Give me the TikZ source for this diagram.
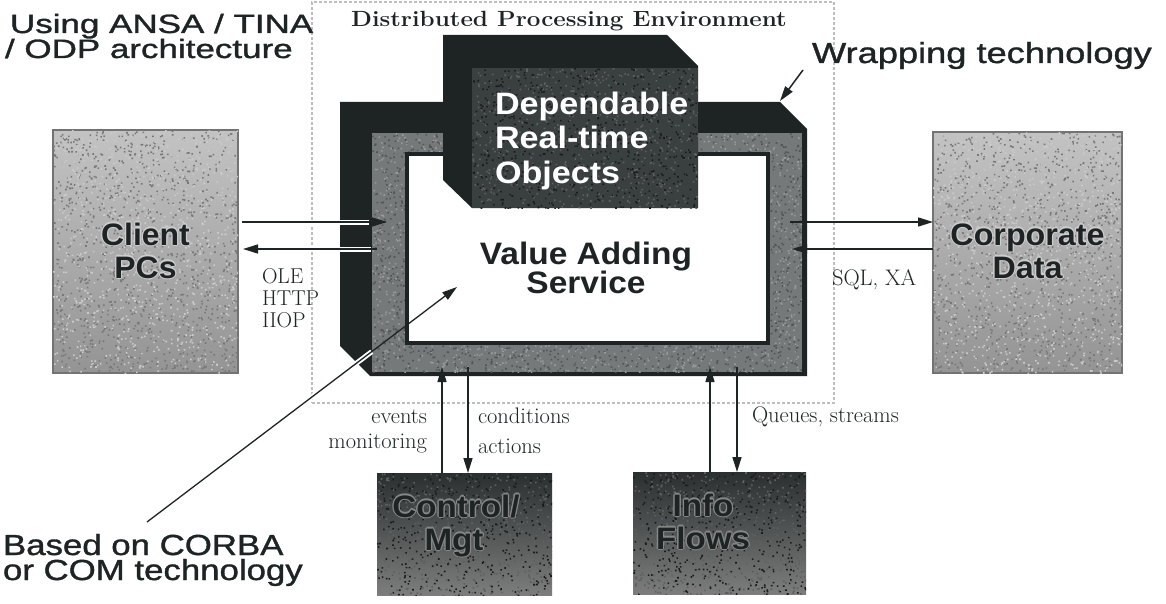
\documentclass[tikz,border=0pt]{standalone}
\usepackage{fontspec}
\usepackage{graphicx}
\newfontfamily\hv{Liberation Sans}
\newfontfamily\hvn[FakeBold=1.1]{Liberation Sans}
\usetikzlibrary{arrows.meta}

\definecolor{ink}{RGB}{30,36,36}
\definecolor{frameGrey}{RGB}{118,121,121}
\definecolor{droGrey}{RGB}{58,63,63}
\definecolor{dpeLine}{RGB}{190,190,190}
\definecolor{sideTop}{RGB}{195,195,195}
\definecolor{sideBot}{RGB}{148,148,148}
\definecolor{lowTop}{RGB}{42,47,47}
\definecolor{lowBot}{RGB}{125,125,125}
\definecolor{haloDark}{RGB}{135,135,135}
\definecolor{haloLight}{RGB}{205,205,205}
\definecolor{sideGrainDark}{RGB}{120,120,120}
\definecolor{sideGrainLight}{RGB}{202,202,202}
\definecolor{frameGrainDark}{RGB}{82,85,85}
\definecolor{frameGrainLight}{RGB}{152,154,154}
\definecolor{darkGrainMid}{RGB}{92,96,96}
\definecolor{darkGrainBlack}{RGB}{24,28,28}

% horizontal stretch of a piece of text
\newcommand\sx[2]{\scalebox{#1}[1]{#2}}
% text with a soft outline in a second colour
\newcommand\halo[2][haloDark]{\leavevmode
  \rlap{\color{#1}\kern-1.2pt #2}%
  \rlap{\color{#1}\kern1.2pt #2}%
  \rlap{\color{#1}\raisebox{1.2pt}{#2}}%
  \rlap{\color{#1}\raisebox{-1.2pt}{#2}}%
  \rlap{\color{#1}\kern-0.85pt\raisebox{0.85pt}{#2}}%
  \rlap{\color{#1}\kern0.85pt\raisebox{0.85pt}{#2}}%
  \rlap{\color{#1}\kern-0.85pt\raisebox{-0.85pt}{#2}}%
  \rlap{\color{#1}\kern0.85pt\raisebox{-0.85pt}{#2}}%
  #2}
% scattered grain over a rectangle: x, y, width, height, count, colour
\newcommand\grain[6]{%
  \begin{scope}
    \clip (#1,#2) rectangle ++(#3,#4);
    \fill[#6]
    \foreach \k in {1,...,#5}{%
      (#1+rnd*#3,#2+rnd*#4) rectangle ++(1.6,1.6)
    };
  \end{scope}}

\begin{document}
\begin{tikzpicture}[x=1pt,y=-1pt,
  every node/.style={inner sep=0pt, outer sep=0pt},
  conn/.style={draw=ink, line width=1.5pt, -{Triangle[length=15pt,width=9pt]}},
  caseEnd/.style={preaction={draw=white, line width=5pt, -, shorten >=#1}},
  caseStart/.style={preaction={draw=white, line width=5pt, -, shorten <=#1}},
  sidebox/.style={anchor=north west, top color=sideTop, bottom color=sideBot,
    draw={rgb,255:red,115;green,115;blue,115}, line width=1.2pt},
  lowbox/.style={anchor=north west, top color=lowTop, bottom color=lowBot},
  boxtext/.style={font=\hv\bfseries\fontsize{31}{33}\selectfont, text=ink},
  small/.style={font=\fontsize{22.5}{24}\selectfont, text=ink},
]
\pgfmathsetseed{7}
\useasboundingbox (0,0) rectangle (1166,604);
\fill[white] (0,0) rectangle (1166,604);

% the distributed processing environment
\node[draw=dpeLine, line width=1.1pt, dash pattern=on 3pt off 2pt, anchor=north west,
      minimum width=522pt, minimum height=401pt] (dpe) at (312,2) {};
\node[font=\bfseries\fontsize{22}{24}\selectfont, text=ink, anchor=base] (dpelabel) at (569,27)
  {\sx{1.1}{Distributed Processing Environment}};

% wrapping layer: dark extrusion, grey frame, white service area
\fill[ink] (340,102) -- (780,102) -- (807,129) -- (807,376) -- (370,376) -- (340,346) -- cycle;
\node[fill=frameGrey, anchor=north west, minimum width=430pt, minimum height=239pt] (wrap) at (372,133) {};
\grain{372}{133}{430}{21}{250}{frameGrainDark}
\grain{372}{133}{430}{21}{200}{frameGrainLight}
\grain{372}{345}{430}{27}{320}{frameGrainDark}
\grain{372}{345}{430}{27}{260}{frameGrainLight}
\grain{372}{154}{35}{191}{190}{frameGrainDark}
\grain{372}{154}{35}{191}{150}{frameGrainLight}
\grain{770}{154}{32}{191}{180}{frameGrainDark}
\grain{770}{154}{32}{191}{140}{frameGrainLight}
\node[fill=white, draw=ink, line width=4pt, anchor=north west,
      minimum width=361pt, minimum height=189pt] (vas) at (407,154) {};

% dependable real-time objects block
\fill[ink] (443,35) -- (667,35) -- (698,66) -- (698,208) -- (472,208) -- (443,180) -- cycle;
\node[fill=droGrey, anchor=north west, minimum width=226pt, minimum height=140pt] (dro) at (472,68) {};
\grain{472}{68}{226}{140}{650}{darkGrainMid}
\grain{472}{68}{226}{140}{650}{darkGrainBlack}
\node[font=\hv\bfseries\fontsize{31}{33}\selectfont, text=white, anchor=base west] (dro1) at (495,115) {\sx{1.1}{Dependable}};
\node[font=\hv\bfseries\fontsize{31}{33}\selectfont, text=white, anchor=base west] (dro2) at (495,149) {\sx{1.1}{Real-time}};
\node[font=\hv\bfseries\fontsize{31}{33}\selectfont, text=white, anchor=base west] (dro3) at (495,183) {\sx{1.1}{Objects}};

\node[boxtext, anchor=base] (vas1) at (586,264) {\sx{1.08}{Value Adding}};
\node[boxtext, anchor=base] (vas2) at (586,293) {\sx{1.08}{Service}};

% outer boxes
\node[sidebox, minimum width=185pt, minimum height=243pt] (client) at (53,130) {};
\grain{53}{130}{185}{243}{1100}{sideGrainDark}
\grain{53}{130}{185}{243}{900}{sideGrainLight}
\node[sidebox, minimum width=189pt, minimum height=241pt] (corp) at (933,132) {};
\grain{933}{132}{189}{241}{1100}{sideGrainDark}
\grain{933}{132}{189}{241}{900}{sideGrainLight}
\node[lowbox, minimum width=175pt, minimum height=122pt] (ctl) at (377,473) {};
\grain{377}{473}{175}{122}{480}{darkGrainMid}
\grain{377}{473}{175}{122}{420}{darkGrainBlack}
\node[lowbox, minimum width=173pt, minimum height=122pt] (info) at (633,472) {};
\grain{633}{472}{173}{122}{480}{darkGrainMid}
\grain{633}{472}{173}{122}{420}{darkGrainBlack}

\node[boxtext, anchor=base] (client1) at (145.5,245) {\sx{1.03}{\halo[haloLight]{Client}}};
\node[boxtext, anchor=base] (client2) at (145.5,278) {\sx{1.03}{\halo[haloLight]{PCs}}};
\node[boxtext, anchor=base] (corp1) at (1027.5,245) {\sx{1.04}{\halo[haloLight]{Corporate}}};
\node[boxtext, anchor=base] (corp2) at (1027.5,278) {\sx{1.04}{\halo[haloLight]{Data}}};
\node[boxtext, anchor=base] (ctl1) at (456,517) {\sx{1.07}{\halo{Control/}}};
\node[boxtext, anchor=base] (ctl2) at (454,550) {\sx{1.07}{\halo{Mgt}}};
\node[boxtext, anchor=base] (info1) at (703,516) {\sx{1.07}{\halo{Info}}};
\node[boxtext, anchor=base] (info2) at (703,549) {\sx{1.07}{\halo{Flows}}};

% free annotations
\node[font=\hvn\fontsize{26.5}{28}\selectfont, text=ink, anchor=base west] (using1) at (10,33) {\sx{1.32}{Using ANSA / TINA}};
\node[font=\hvn\fontsize{26.5}{28}\selectfont, text=ink, anchor=base west] (using2) at (5,58) {\sx{1.32}{/ ODP architecture}};
\node[font=\hvn\fontsize{29}{30}\selectfont, text=ink, anchor=base west] (wraptext) at (812,63) {\sx{1.25}{Wrapping technology}};
\node[font=\hvn\fontsize{29}{30}\selectfont, text=ink, anchor=base west] (based1) at (3,555) {\sx{1.2}{Based on CORBA}};
\node[font=\hvn\fontsize{29}{30}\selectfont, text=ink, anchor=base west] (based2) at (3,580) {\sx{1.2}{or COM technology}};

% protocol labels
\node[small, font=\fontsize{21.5}{22}\selectfont, anchor=base west] (ole) at (262,283) {OLE};
\node[small, font=\fontsize{21.5}{22}\selectfont, anchor=base west] (http) at (262,305) {HTTP};
\node[small, font=\fontsize{21.5}{22}\selectfont, anchor=base west] (iiop) at (262,327) {IIOP};
\node[small, anchor=base west] (sql) at (832,285) {SQL, XA};
\node[small, anchor=base east] (events) at (427,423) {events};
\node[small, anchor=base east] (monit) at (427,448) {monitoring};
\node[small, anchor=base west] (cond) at (478,423) {conditions};
\node[small, anchor=base west] (actions) at (478,453) {actions};
\node[small, anchor=base west] (queues) at (752,422) {Queues, streams};

% connector end points inside the wrapping frame
\coordinate (inL1) at (387,222);
\coordinate (outL2) at (377,249);
\coordinate (outR1) at (790,222);
\coordinate (inR2) at (792,249);
\coordinate (ctlUp) at (442,367);
\coordinate (ctlDown) at (468,367);
\coordinate (infoUp) at (710,367);
\coordinate (infoDown) at (737,367);
\coordinate (wrapTail) at (803,70);
\coordinate (wrapCorner) at (780,101);
\coordinate (corbaTail) at (147,522);
\coordinate (corbaTip) at (457,287);

% connectors
\draw[conn, caseEnd=18pt] ([xshift=4pt, yshift=29.5pt]client.east) -- (inL1);
\draw[conn, caseStart=6pt] (outL2) -- ([xshift=5pt, yshift=2.5pt]client.east);
\draw[conn] (outR1) -- ([yshift=30.5pt]corp.west);
\draw[conn] ([yshift=3.5pt]corp.west) -- (inR2);
\draw[conn] ([xshift=-22.5pt]ctl.north) -- (ctlUp);
\draw[conn] (ctlDown) -- ([xshift=3.5pt]ctl.north);
\draw[conn] ([xshift=-9.5pt]info.north) -- (infoUp);
\draw[conn] (infoDown) -- ([xshift=17.5pt]info.north);
\draw[conn] (wrapTail) -- (wrapCorner);
\draw[conn, line width=1.3pt, caseEnd=107pt] (corbaTail) -- (corbaTip);
\end{tikzpicture}
\end{document}
